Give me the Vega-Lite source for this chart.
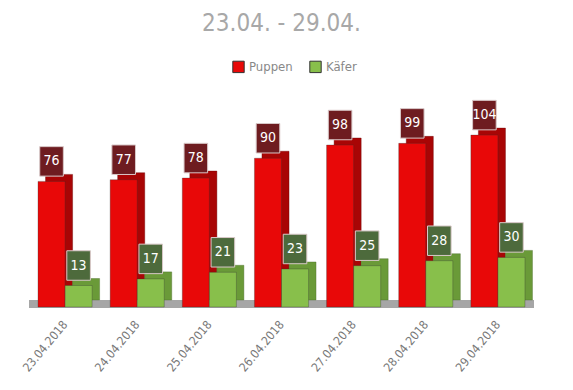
{
  "$schema": "https://vega.github.io/schema/vega-lite/v6.json",
  "width": 505,
  "height": 200,
  "autosize": "none",
  "padding": {"left": 29, "top": 107, "right": 39, "bottom": 83},
  "background": "white",
  "config": {"view": {"stroke": null}, "font": "DejaVu Sans Condensed, sans-serif"},
  "title": {
    "text": "23.04. - 29.04.",
    "fontSize": 24,
    "fontWeight": "normal",
    "color": "#a8a8a8",
    "anchor": "middle",
    "offset": 24,
    "font": "DejaVu Sans Condensed, sans-serif"
  },
  "data": {
    "values": [
      {"date": "23.04.2018", "series": "Puppen", "value": 76},
      {"date": "24.04.2018", "series": "Puppen", "value": 77},
      {"date": "25.04.2018", "series": "Puppen", "value": 78},
      {"date": "26.04.2018", "series": "Puppen", "value": 90},
      {"date": "27.04.2018", "series": "Puppen", "value": 98},
      {"date": "28.04.2018", "series": "Puppen", "value": 99},
      {"date": "29.04.2018", "series": "Puppen", "value": 104},
      {"date": "23.04.2018", "series": "Käfer", "value": 13},
      {"date": "24.04.2018", "series": "Käfer", "value": 17},
      {"date": "25.04.2018", "series": "Käfer", "value": 21},
      {"date": "26.04.2018", "series": "Käfer", "value": 23},
      {"date": "27.04.2018", "series": "Käfer", "value": 25},
      {"date": "28.04.2018", "series": "Käfer", "value": 28},
      {"date": "29.04.2018", "series": "Käfer", "value": 30}
    ]
  },
  "encoding": {
    "x": {
      "field": "date",
      "type": "nominal",
      "scale": {"paddingInner": 0.25, "paddingOuter": 0.125},
      "axis": {
        "title": null,
        "domain": false,
        "ticks": false,
        "labelAngle": -50,
        "labelColor": "#777777",
        "labelFontSize": 12,
        "labelPadding": 15,
        "labelFont": "DejaVu Sans Condensed, sans-serif"
      }
    },
    "y": {
      "field": "value",
      "type": "quantitative",
      "scale": {"domain": [0, 121], "nice": false},
      "axis": null
    }
  },
  "layer": [
    {
      "mark": {"type": "rule", "strokeWidth": 7, "color": "#a6a6a6", "yOffset": -3},
      "encoding": {"y": {"datum": 0}, "x": null}
    },
    {
      "transform": [{"filter": "datum.series === 'Puppen'"}],
      "mark": {"type": "bar", "width": {"band": 0.5}, "xOffset": -6, "yOffset": -7, "color": "#a80505", "stroke": "#6a0000", "strokeWidth": 0.4}
    },
    {
      "transform": [{"filter": "datum.series === 'Käfer'"}],
      "mark": {"type": "bar", "width": {"band": 0.5}, "xOffset": 21, "yOffset": -7, "color": "#6a9a38", "stroke": "#4a6a28", "strokeWidth": 0.4}
    },
    {
      "mark": {"type": "bar", "stroke": "#333333", "strokeOpacity": 0.45, "strokeWidth": 0.7},
      "encoding": {
        "xOffset": {"field": "series", "type": "nominal", "sort": ["Puppen", "Käfer"]},
        "color": {
          "field": "series",
          "type": "nominal",
          "scale": {"domain": ["Puppen", "Käfer"], "range": ["#e80808", "#88bf4b"]},
          "legend": {
            "title": null,
            "orient": "none",
            "direction": "horizontal",
            "legendX": 203,
            "legendY": -47,
            "symbolType": "square",
            "symbolSize": 130,
            "symbolStrokeWidth": 1,
            "labelColor": "#888888",
            "labelFontSize": 13,
            "columnPadding": 14,
            "labelFont": "DejaVu Sans Condensed, sans-serif"
          }
        }
      }
    },
    {
      "mark": {
        "type": "point",
        "shape": "M-0.8,-1 L0.8,-1 L0.8,1 L-0.8,1 Z",
        "size": 870,
        "filled": true,
        "opacity": 1,
        "yOffset": -20,
        "xOffset": 1,
        "stroke": "#d8c8c8",
        "strokeWidth": 1
      },
      "encoding": {
        "xOffset": {"field": "series", "type": "nominal", "sort": ["Puppen", "Käfer"]},
        "color": {
          "field": "series",
          "type": "nominal",
          "scale": {"domain": ["Puppen", "Käfer"], "range": ["#6e1c20", "#4d6a3c"]},
          "legend": null
        }
      }
    },
    {
      "mark": {
        "type": "text",
        "color": "white",
        "fontSize": 14,
        "yOffset": -20,
        "xOffset": 1,
        "baseline": "middle",
        "align": "center",
        "font": "DejaVu Sans Condensed, sans-serif"
      },
      "encoding": {
        "xOffset": {"field": "series", "type": "nominal", "sort": ["Puppen", "Käfer"]},
        "text": {"field": "value", "type": "quantitative"}
      }
    }
  ],
  "resolve": {"scale": {"color": "independent"}}
}
